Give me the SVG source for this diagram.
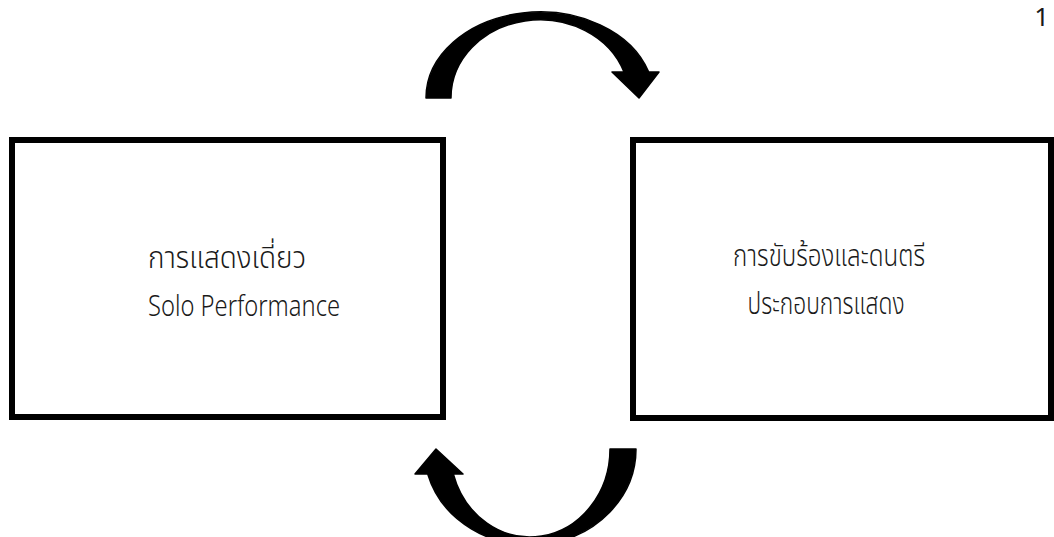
<svg xmlns="http://www.w3.org/2000/svg" width="1054" height="537" viewBox="0 0 1054 537">
  <style>
    .box { fill: #ffffff; stroke: #000000; stroke-width: 6; }
    .arrow { fill: #000000; stroke: #000000; stroke-width: 1.5; stroke-linejoin: round; }
    .label { font-family: "Noto Sans", "Noto Sans Thai", "Loma", "Garuda", sans-serif; font-size: 30px; font-weight: 300; fill: #1a1a1a; text-anchor: middle; }
    .pageno { font-family: "Noto Sans", sans-serif; font-size: 26px; fill: #1a1a1a; text-anchor: end; }
  </style>
  <rect width="1054" height="537" fill="#ffffff"/>

  <!-- page number -->
  <text class="pageno" x="1049" y="26">1</text>

  <!-- node: solo performance -->
  <g id="node-solo">
    <rect class="box" x="12" y="140" width="431" height="277"/>
    <text class="label" x="227" y="268" textLength="158" lengthAdjust="spacingAndGlyphs">การแสดงเดี่ยว</text>
    <text class="label" x="244" y="316" textLength="192" lengthAdjust="spacingAndGlyphs">Solo Performance</text>
  </g>

  <!-- node: singing and music accompaniment -->
  <g id="node-music">
    <rect class="box" x="633" y="140" width="418" height="278"/>
    <text class="label" x="829" y="266" textLength="192" lengthAdjust="spacingAndGlyphs">การขับร้องและดนตรี</text>
    <text class="label" x="826" y="314" textLength="157" lengthAdjust="spacingAndGlyphs">ประกอบการแสดง</text>
  </g>

  <!-- curved block arrows between the two nodes -->
  <g id="connectors">
    <path class="arrow" d="M 426 98 A 114 86 0 0 1 648.7 72 L 659 72 L 639 98 L 612 72 L 624 72 A 89 78 0 0 0 451 98 Z"/>
    <path class="arrow" d="M 636 449 A 106 96 0 0 1 427.7 474 L 415 474 L 436 449 L 463 474 L 453.3 474 A 80 88 0 0 0 610 449 Z"/>
  </g>
</svg>
